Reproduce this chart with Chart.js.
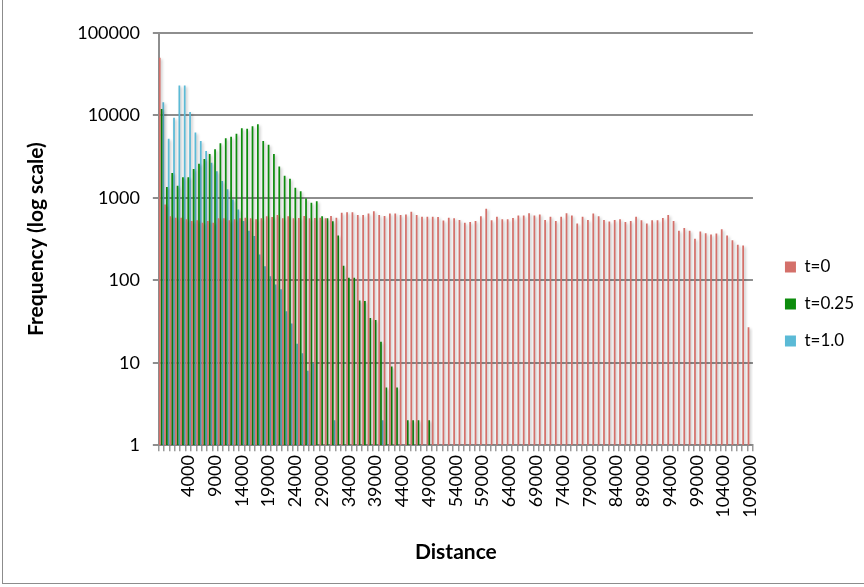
<!DOCTYPE html>
<html>
<head>
<meta charset="utf-8">
<script src="https://cdn.jsdelivr.net/npm/chart.js@4.4.1/dist/chart.umd.min.js"></script>
<style>
  html, body { margin: 0; padding: 0; background: #fff; }
  #wrap { position: relative; width: 864px; height: 587px; overflow: hidden; }
  #frame { position: absolute; left: 2px; top: -2px; width: 880px; height: 586px; border: 1px solid #8c8c8c; box-sizing: border-box; }
  #chart { position: absolute; left: 0; top: 0; }
</style>
</head>
<body>
<div id="wrap"><div id="frame"></div><canvas id="chart" width="864" height="587"></canvas></div>
<script>
// categories: first bin has no label, then 0, 1000, ... 109000
const distances = [''];
for (let d = 0; d <= 109000; d += 1000) distances.push(d);

const yTicks = [1, 10, 100, 1000, 10000, 100000];

const seriesNames = ['t=0', 't=0.25', 't=1.0'];
const seriesColors = ['#d4706a', '#0d8c0d', '#5bbad6'];

// (log scale)
const freqT0 = [
  50000, 830, 600, 575, 575, 550, 525, 535, 500, 525,
  500, 565, 565, 535, 550, 565, 575, 565, 550, 565,
  600, 585, 620, 565, 600, 564, 570, 601, 564, 570,
  574, 564, 601, 574, 659, 671, 671, 618, 618, 648,
  690, 618, 601, 646, 648, 618, 630, 680, 618, 590,
  590, 590, 584, 530, 575, 567, 540, 500, 510, 525,
  600, 740, 535, 590, 550, 550, 570, 610, 610, 650,
  610, 630, 540, 590, 525, 590, 650, 610, 490, 590,
  540, 645, 600, 540, 515, 540, 550, 510, 525, 590,
  535, 490, 535, 535, 570, 620, 525, 400, 430, 400,
  320, 390, 372, 360, 370, 415, 350, 305, 270, 265,
  27
];

const freqT025 = [
  12000, 1350, 2000, 1400, 1780, 1780, 2240, 2600, 2960, 3400,
  3900, 4600, 5300, 5500, 6000, 7000, 6900, 7400, 7800, 4900,
  4400, 3400, 2400, 1850, 1700, 1330, 1200, 980, 870, 910,
  600, 565, 520, 350, 150, 107, 107, 57, 56, 35,
  33, 18, 5, 9, 5, null, 2, 2, 2, null,
  2
];

const freqT1 = [
  14500, 5200, 9400, 23000, 23000, 11000, 6200, 4900, 3700, 2670,
  2110, 1600, 1270, 955, 725, 525, 400, 345, 205, 148,
  112, 89, 78, 42, 30, 17, 13, 8, 10, null,
  null, null, 2, null, null, null, null, null, null, null,
  null, 2
];

const barShadow = {
  id: 'barShadow',
  beforeDatasetsDraw(chart) {
    const ctx = chart.ctx;
    ctx.save();
    ctx.shadowColor = 'rgba(0,0,0,0.28)';
    ctx.shadowBlur = 3;
    ctx.shadowOffsetX = 1.5;
    ctx.shadowOffsetY = 1.5;
  },
  afterDatasetsDraw(chart) {
    chart.ctx.restore();
  }
};

// push the legend a bit away from the plot and lower
const legendShift = {
  id: 'legendShift',
  afterLayout(chart) {
    const lg = chart.legend;
    if (!lg) return;
    lg.left += 12;
    lg.right += 12;
    lg.top += 3;
    lg.bottom += 3;
  }
};

const gridGrey = '#8e8e8e';
const font = 'Lato, "Open Sans", sans-serif';

new Chart(document.getElementById('chart'), {
  type: 'bar',
  data: {
    labels: distances,
    datasets: [
      { label: seriesNames[0], data: freqT0, backgroundColor: seriesColors[0] },
      { label: seriesNames[1], data: freqT025, backgroundColor: seriesColors[1] },
      { label: seriesNames[2], data: freqT1, backgroundColor: seriesColors[2] }
    ]
  },
  options: {
    responsive: false,
    animation: false,
    layout: { padding: { left: 20, top: 33, right: 12, bottom: 18 } },
    datasets: {
      bar: { categoryPercentage: 1.0, barPercentage: 0.98 }
    },
    plugins: {
      tooltip: { enabled: false },
      legend: {
        position: 'right',
        labels: {
          boxWidth: 11,
          boxHeight: 11,
          padding: 20,
          color: '#000',
          font: { family: font, size: 17 }
        }
      }
    },
    scales: {
      x: {
        grid: {
          drawOnChartArea: false,
          drawTicks: true,
          tickLength: 6,
          color: '#9a9a9a',
          lineWidth: 1.5
        },
        border: { color: gridGrey, width: 2 },
        ticks: {
          autoSkip: false,
          minRotation: 90,
          maxRotation: 90,
          padding: 4,
          color: '#000',
          font: { family: font, size: 18 },
          callback: (v, i) => (i > 0 && i % 5 === 0) ? String(distances[i]) : ''
        },
        title: {
          display: true,
          text: 'Distance',
          color: '#000',
          font: { family: font, size: 21, weight: 'bold' },
          padding: { top: 18, bottom: 4 }
        }
      },
      y: {
        type: 'logarithmic',
        min: 1,
        max: 100000,
        afterBuildTicks: (axis) => { axis.ticks = yTicks.map(v => ({ value: v })); },
        grid: { color: gridGrey, lineWidth: 2, tickLength: 6 },
        border: { color: gridGrey, width: 2 },
        ticks: {
          padding: 13,
          color: '#000',
          font: { family: font, size: 18 },
          callback: (v) => String(v)
        },
        title: {
          display: true,
          text: 'Frequency (log scale)',
          color: '#000',
          font: { family: font, size: 21, weight: 'bold' },
          padding: { top: 4, bottom: 15 }
        }
      }
    }
  },
  plugins: [barShadow, legendShift]
});
</script>
</body>
</html>
